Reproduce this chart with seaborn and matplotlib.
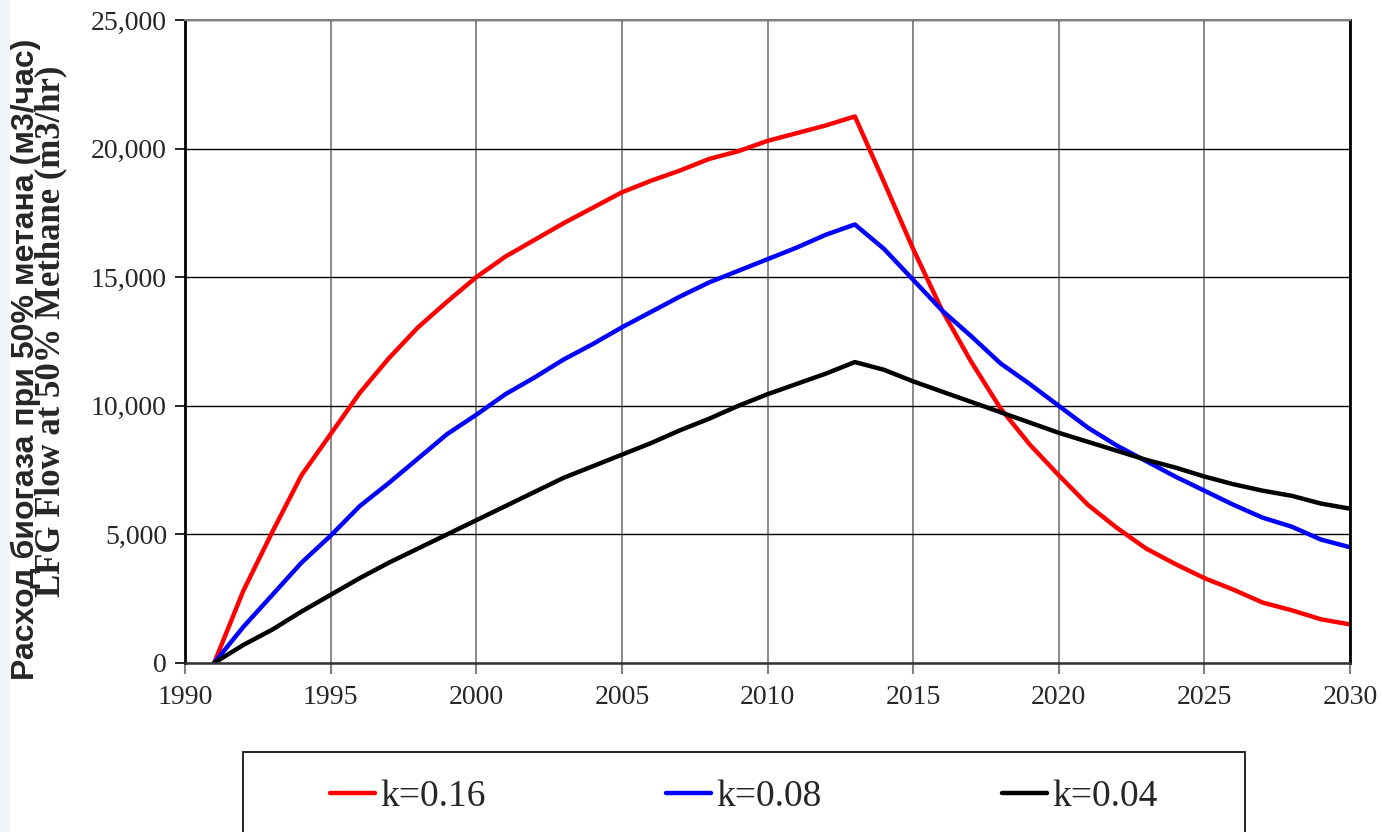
import numpy as np
import pandas as pd
import seaborn as sns
import matplotlib
matplotlib.use("Agg")
import matplotlib.pyplot as plt
import matplotlib.ticker as mticker
from matplotlib.patches import Rectangle

years = list(range(1991, 2031))

k016 = [0, 2800, 5100, 7300, 8900, 10500, 11850, 13050, 14050, 15000,
        15800, 16450, 17100, 17700, 18300, 18750, 19150, 19600, 19900, 20300,
        20600, 20900, 21250, 18700, 16100, 13700, 11700, 9900, 8500, 7300,
        6150, 5250, 4450, 3850, 3300, 2850, 2350, 2050, 1700, 1500]
k008 = [0, 1400, 2650, 3900, 4950, 6100, 7000, 7950, 8900, 9650,
        10450, 11100, 11800, 12400, 13050, 13650, 14250, 14800, 15250, 15700,
        16150, 16650, 17050, 16100, 14900, 13700, 12700, 11650, 10850, 10000,
        9150, 8450, 7850, 7250, 6700, 6150, 5650, 5300, 4800, 4500]
k004 = [0, 700, 1300, 2000, 2650, 3300, 3900, 4450, 5000, 5550,
        6100, 6650, 7200, 7650, 8100, 8550, 9050, 9500, 10000, 10450,
        10850, 11250, 11700, 11400, 10950, 10550, 10150, 9750, 9350, 8950,
        8600, 8250, 7900, 7600, 7250, 6950, 6700, 6500, 6200, 6000]

series_names = ["k=0.16", "k=0.08", "k=0.04"]
colors = ["#ff0000", "#0000ff", "#000000"]

df = pd.DataFrame({"year": years * 3,
                   "flow": k016 + k008 + k004,
                   "series": sum([[n] * len(years) for n in series_names], [])})

sns.set_style("white")
plt.rcParams['font.family'] = ['Liberation Serif', 'DejaVu Serif']

W, H = 1382, 832
fig = plt.figure(figsize=(W / 100, H / 100), dpi=100)
fig.patches.append(Rectangle((0, 0), 10 / W, 1, transform=fig.transFigure,
                             facecolor="#f3f3fa", edgecolor="none", zorder=0))
ax = fig.add_axes([185 / W, 1 - 663 / H, (1350 - 185) / W, (663 - 20) / H])

sns.lineplot(data=df, x="year", y="flow", hue="series", palette=colors,
             hue_order=series_names, linewidth=3.2, ax=ax, legend=False)

ax.set_xlim(1990, 2030)
ax.set_ylim(0, 25000)
ax.xaxis.set_major_locator(mticker.MultipleLocator(5))
ax.yaxis.set_major_locator(mticker.MultipleLocator(5000))
ax.yaxis.set_major_formatter(mticker.FuncFormatter(lambda v, p: f"{int(v):,}"))
ax.grid(axis="y", color="black", linewidth=1.0)
ax.grid(axis="x", color="#808080", linewidth=1.3)
ax.set_axisbelow(True)
ax.set_xlabel("")
ax.set_ylabel("")

for s in ["left", "right"]:
    ax.spines[s].set_color("black")
    ax.spines[s].set_linewidth(2)
ax.spines["top"].set_color("#808080")
ax.spines["top"].set_linewidth(1.5)
ax.spines["bottom"].set_color("#333333")
ax.spines["bottom"].set_linewidth(1.8)

ax.tick_params(axis="y", direction="out", length=7, width=1.2, color="black",
               labelsize=20, pad=6, left=True)
ax.tick_params(axis="x", direction="out", length=8, width=1.5, color="#808080",
               labelsize=20, pad=8, bottom=True)

# two overlapping axis titles, as in the original
fig.text(26 / W, 1 - 359 / H, "Расход биогаза при 50% метана (м3/час)",
         rotation=90, ha="center", va="center", fontsize=23, fontweight="bold",
         family=["Liberation Sans", "DejaVu Sans"])
fig.text(51 / W, 1 - 331 / H, "LFG Flow at 50% Methane (m3/hr)",
         rotation=90, ha="center", va="center", fontsize=25, fontweight="bold",
         family=["Liberation Serif", "DejaVu Serif"])

# legend box cut off by the bottom edge
fig.patches.append(Rectangle((243 / W, -0.05), (1245 - 243) / W, 0.05 + (832 - 752) / H,
                             transform=fig.transFigure, facecolor="white",
                             edgecolor="black", linewidth=1.2))
handles = [plt.Line2D([], [], color=c, linewidth=3.2) for c in colors]
fig.legend(handles, series_names, loc="center left", ncol=3,
           bbox_to_anchor=(296 / W, 1 - 797 / H), frameon=False,
           fontsize=27, handlelength=1.2, handletextpad=0.15, columnspacing=4.8)

fig.savefig("out.png", dpi=100)
